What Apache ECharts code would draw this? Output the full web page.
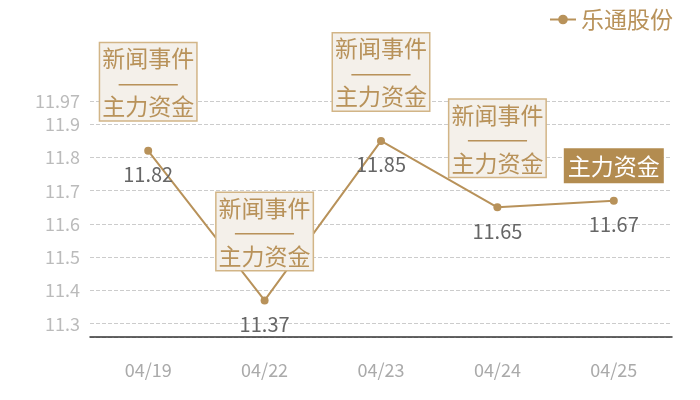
<!DOCTYPE html>
<html>
<head>
<meta charset="utf-8">
<script src="https://cdn.jsdelivr.net/npm/echarts@6/dist/echarts.min.js"></script>
<style>
html, body { margin: 0; padding: 0; background: #fff; }
#main { width: 700px; height: 400px; }
</style>
</head>
<body>
<div id="main"></div>
<script>
var dates = ['04/19', '04/22', '04/23', '04/24', '04/25'];
var prices = [11.82, 11.37, 11.85, 11.65, 11.67];
var seriesName = '乐通股份';
// annotation per day: 1 = 新闻事件/主力资金 box, 2 = 主力资金 only
var eventType = [1, 1, 1, 1, 2];

var gold = '#b8925a';
var font = '"Noto Sans CJK SC", "Noto Sans", sans-serif';

var markData = [];
for (var i = 0; i < dates.length; i++) {
    if (eventType[i] == 1) {
        markData.push({
            coord: [i, prices[i]],
            label: {
                formatter: '{t|新闻事件}\n{d|———}\n{t|主力资金}',
                backgroundColor: '#f4f0ea',
                borderColor: '#d2b587',
                borderWidth: 1.5,
                padding: [2, 2, 1, 2],
                distance: 30,
                rich: {
                    t: { color: gold, fontSize: 23, lineHeight: 26, fontFamily: font },
                    d: { color: gold, fontSize: 25, lineHeight: 22, fontFamily: font }
                }
            }
        });
    } else {
        markData.push({
            coord: [i, prices[i]],
            label: {
                formatter: '主力资金',
                color: '#fff',
                fontSize: 23,
                lineHeight: 26,
                backgroundColor: '#b38c50',
                padding: [5, 4, 4, 4],
                distance: 17
            }
        });
    }
}

var chart = echarts.init(document.getElementById('main'));

var option = {
    animation: false,
    textStyle: { fontFamily: font },
    legend: {
        data: [seriesName],
        right: 22,
        top: 3,
        itemWidth: 26,
        itemHeight: 12,
        textStyle: { color: gold, fontSize: 23, fontFamily: font }
    },
    grid: {
        left: 90,
        right: 28,
        top: 101,
        bottom: 63
    },
    xAxis: {
        type: 'category',
        data: dates,
        boundaryGap: true,
        axisLine: { lineStyle: { color: '#333', width: 1.5 } },
        axisTick: { show: false },
        axisLabel: { color: '#aaa', fontSize: 18, margin: 24, fontFamily: font }
    },
    yAxis: {
        type: 'value',
        min: 11.26,
        max: 11.97,
        splitNumber: 7,
        axisLine: { show: false },
        axisTick: { show: false },
        axisLabel: { color: '#bbb', fontSize: 18, margin: 10, showMinLabel: false, fontFamily: font },
        splitLine: { lineStyle: { color: '#ccc', type: 'dashed' } }
    },
    series: [{
        name: seriesName,
        type: 'line',
        data: prices,
        symbol: 'circle',
        symbolSize: 8,
        itemStyle: { color: gold },
        lineStyle: { color: gold, width: 2 },
        label: {
            show: true,
            position: 'bottom',
            distance: 10,
            color: '#666',
            fontSize: 20,
            fontFamily: font
        },
        markPoint: {
            symbol: 'rect',
            symbolSize: 1,
            itemStyle: { color: 'rgba(0,0,0,0)' },
            label: {
                show: true,
                position: 'top',
                fontFamily: font
            },
            data: markData
        }
    }]
};

chart.setOption(option);
</script>
</body>
</html>
